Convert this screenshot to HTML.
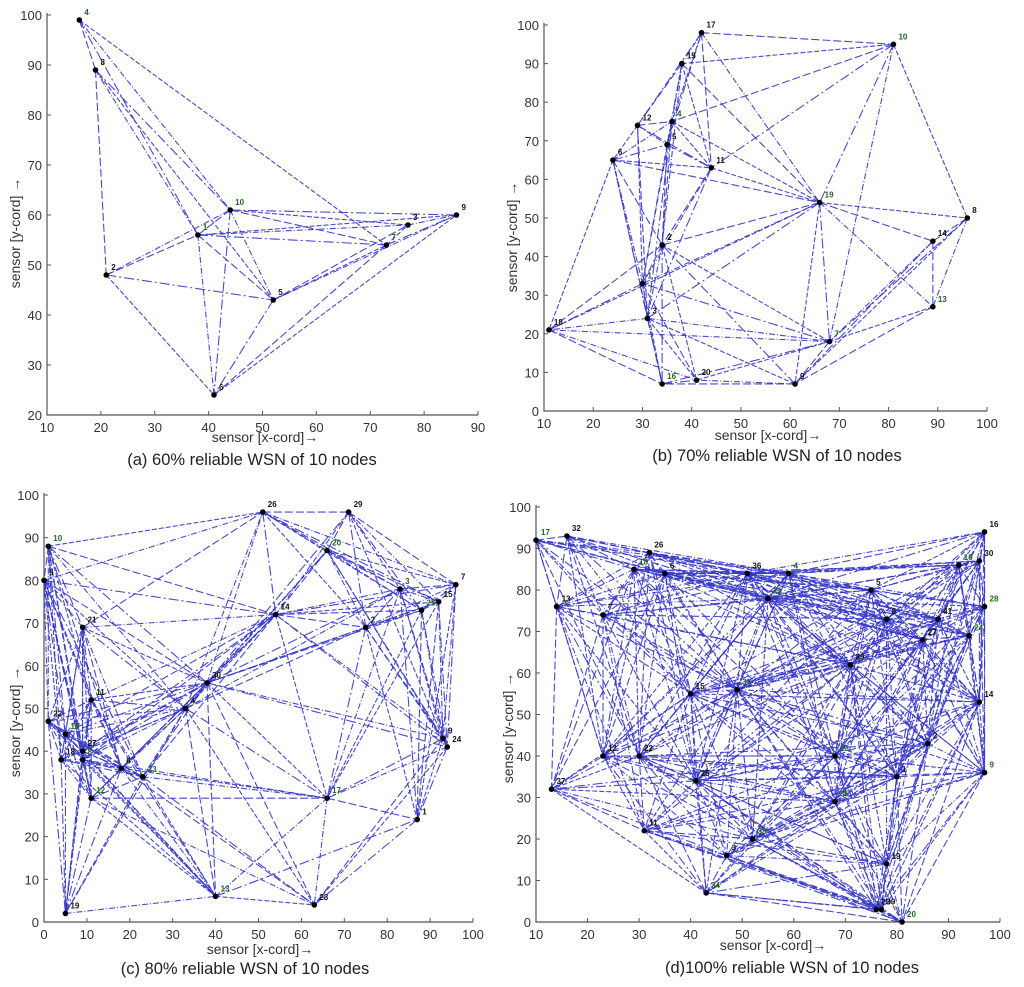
<!DOCTYPE html>
<html><head><meta charset="utf-8"><style>
html,body{margin:0;padding:0;background:#fff;}
svg{display:block;}
text{font-family:"Liberation Sans","DejaVu Sans",sans-serif;}
</style></head><body>
<svg id="fig" width="1024" height="987" viewBox="0 0 1024 987" xmlns="http://www.w3.org/2000/svg"></svg>
<script>
// ---------- Panel (a) data ----------
const aLabels = ["1","2","3","4","5","6","7","8","9","10"];
const aX = [38,21,77,16,52,41,73,19,86,44];
const aY = [56,48,58,99,43,24,54,89,60,61];
const aEdges = [[4,8],[4,10],[4,1],[4,7],[8,2],[8,1],[8,10],[8,5],[2,1],[2,10],[2,5],[2,6],[1,10],[1,3],[1,7],[1,9],[1,5],[1,6],[10,9],[10,3],[10,7],[10,5],[10,6],[5,7],[5,3],[5,9],[5,6],[6,9],[6,7],[3,9],[7,9],[7,3]];
const aXTicks = [10,20,30,40,50,60,70,80,90];
const aYTicks = [20,30,40,50,60,70,80,90,100];

// ---------- Panel (b) data ----------
const bLabels = ["1","2","3","4","5","6","7","8","9","10","11","12","13","14","15","16","17","18","19","20"];
const bX = [30,34,31,36,35,24,68,96,61,81,44,29,89,89,38,34,42,11,66,41];
const bY = [33,43,24,75,69,65,18,50,7,95,63,74,27,44,90,7,98,21,54,8];
const bEdges = [[17,10],[17,15],[17,12],[17,4],[17,11],[17,19],[17,5],[15,10],[15,12],[15,4],[15,5],[15,11],[15,19],[15,2],[10,19],[10,8],[10,4],[10,7],[10,11],[12,6],[12,4],[12,5],[12,11],[12,1],[12,3],[6,4],[6,5],[6,11],[6,19],[6,1],[6,3],[6,18],[6,2],[6,16],[4,5],[4,11],[4,2],[4,1],[4,3],[4,19],[5,2],[5,1],[5,11],[11,19],[11,2],[11,1],[11,3],[19,8],[19,14],[19,13],[19,7],[19,9],[19,2],[19,1],[19,3],[19,18],[8,14],[8,13],[8,7],[8,9],[14,13],[14,7],[14,9],[13,7],[13,9],[7,3],[7,1],[7,2],[7,9],[7,18],[7,16],[7,20],[9,16],[9,20],[9,2],[9,3],[2,1],[2,3],[2,16],[2,20],[2,18],[1,3],[1,18],[1,16],[1,20],[3,18],[3,16],[3,20],[18,16],[18,20],[16,20]];
const bXTicks = [10,20,30,40,50,60,70,80,90,100];
const bYTicks = [0,10,20,30,40,50,60,70,80,90,100];

// ---------- Panel (c) data ----------
const cLabels = ["10","5","22","16","18","27","8","21","11","12","19","6","23","4","30","13","26","29","20","14","2","3","7","15","25","9","24","17","1","28"];
const cX = [1,0,1,5,4,9,9,9,11,11,5,18,23,33,38,40,51,71,66,54,75,83,96,92,88,93,94,66,87,63];
const cY = [88,80,47,44,38,40,38,69,52,29,2,36,34,50,56,6,96,96,87,72,69,78,79,75,73,43,41,29,24,4];
const cXTicks = [0,10,20,30,40,50,60,70,80,90,100];
const cYTicks = [0,10,20,30,40,50,60,70,80,90,100];
const cReach = 58;

// ---------- Panel (d) data ----------
const dLabels = ["17","32","26","18","6","36","4","13","7","21","5","8","16","30","16","28","41","27","24","29","15","31","14","2","9","12","22","23","1","25","35","37","11","38","3","19","34","29","39","20"];
const dX = [10,16,32,29,35,51,59,14,23,55,75,78,92,96,97,97,88,85,94,71,40,49,96,86,97,23,30,68,80,41,68,13,31,52,47,78,43,76,77,81];
const dY = [92,93,89,85,84,84,84,76,74,78,80,73,86,87,94,76,73,68,69,62,55,56,53,43,36,40,40,40,35,34,29,32,22,20,16,14,7,3,3,0];
const dXTicks = [10,20,30,40,50,60,70,80,90,100];
const dYTicks = [0,10,20,30,40,50,60,70,80,90,100];
const dReach = 60;

const NS = "http://www.w3.org/2000/svg";
const fig = document.getElementById("fig");
const dashes = ["8,3","6,2,1,2","10,3,2,3","5,2"];

function mk(tag, attrs, parent){
  const e = document.createElementNS(NS, tag);
  for (const k in attrs) e.setAttribute(k, attrs[k]);
  parent.appendChild(e);
  return e;
}

function panel(id, g, labels, xs, ys, edges, xt, yt, cap){
  const grp = mk("g", {}, fig);
  
  
  const sx = v => g.x0 + (v - g.xmin) / (g.xmax - g.xmin) * (g.x1 - g.x0);
  const sy = v => g.yb - (v - g.ymin) / (g.ymax - g.ymin) * (g.yb - g.yt);
  const ax = mk("path", {d:`M${g.x0},${g.yt-2} L${g.x0},${g.yb} L${g.x1},${g.yb}`, fill:"none", stroke:"#555", "stroke-width":1.2}, grp);
  
  
  xt.forEach(v => {
    const x = sx(v);
    mk("line", {x1:x, y1:g.yb, x2:x, y2:g.yb-4, stroke:"#555"}, grp);
    const t = mk("text", {x:x, y:g.yb+17, "text-anchor":"middle", "font-size":13, fill:"#333"}, grp);
    t.textContent = v;
    
    
  });
  yt.forEach(v => {
    const y = sy(v);
    mk("line", {x1:g.x0, y1:y, x2:g.x0+4, y2:y, stroke:"#555"}, grp);
    const t = mk("text", {x:g.x0-5, y:y+5, "text-anchor":"end", "font-size":13, fill:"#333"}, grp);
    t.textContent = v;
    
    
  });
  const eg = mk("g", {}, grp);
  
  
  edges.forEach((p, i) => {
    const a = p[0], b = p[1];
    const l = mk("line", {x1:sx(xs[a]), y1:sy(ys[a]), x2:sx(xs[b]), y2:sy(ys[b]), stroke:"#3535c8", "stroke-width":1.1, "stroke-opacity":0.9, "stroke-dasharray":dashes[i % 4]}, eg);
    
    
  });
  xs.forEach((v, i) => {
    const c = mk("circle", {cx:sx(v), cy:sy(ys[i]), r:2.8, fill:"#000"}, grp);
    
    
    const t = mk("text", {x:sx(v)+5, y:sy(ys[i])-5, "font-size":8, "font-weight":"bold", fill:(i % 3 === 0 ? "#226622" : "#111")}, grp);
    t.textContent = labels[i];
    
    
  });
  const xtit = mk("text", {x:g.xtx, y:g.xty, "text-anchor":"middle", "font-size":14, fill:"#333"}, grp);
  xtit.textContent = "sensor [x-cord]\u2192";
  
  
  const ytit = mk("text", {x:0, y:0, "text-anchor":"middle", "font-size":14, fill:"#333", transform:`translate(${g.ytx},${g.yty}) rotate(-90)`}, grp);
  ytit.textContent = "sensor [y-cord] \u2192";
  
  
  const ct = mk("text", {x:g.cx, y:g.cy, "text-anchor":"middle", "font-size":16.5, fill:"#222"}, grp);
  ct.textContent = cap;
  
  
}

function idxEdges(labels, list){
  return list.map(p => [labels.indexOf(String(p[0])), labels.indexOf(String(p[1]))]);
}
function reachEdges(xs, ys, reach){
  const out = [];
  for (let i = 0; i < xs.length; i++)
    for (let j = i + 1; j < xs.length; j++)
      if (Math.hypot(xs[i]-xs[j], ys[i]-ys[j]) < reach) out.push([i, j]);
  return out;
}

panel("a", {x0:47,x1:478,xmin:10,xmax:90,yt:15,yb:415,ymin:20,ymax:100,xtx:265,xty:442,ytx:20,yty:233,cx:252,cy:465},
  aLabels, aX, aY, idxEdges(aLabels, aEdges), aXTicks, aYTicks, "(a) 60% reliable WSN of 10 nodes");
panel("b", {x0:544,x1:987,xmin:10,xmax:100,yt:25,yb:411,ymin:0,ymax:100,xtx:768,xty:440,ytx:517,yty:237,cx:777,cy:461},
  bLabels, bX, bY, idxEdges(bLabels, bEdges), bXTicks, bYTicks, "(b) 70% reliable WSN of 10 nodes");
panel("c", {x0:44,x1:473,xmin:0,xmax:100,yt:495,yb:922,ymin:0,ymax:100,xtx:260,xty:954,ytx:20,yty:722,cx:245,cy:974},
  cLabels, cX, cY, reachEdges(cX, cY, cReach), cXTicks, cYTicks, "(c) 80% reliable WSN of 10 nodes");
panel("d", {x0:536,x1:1000,xmin:10,xmax:100,yt:507,yb:922,ymin:0,ymax:100,xtx:773,xty:950,ytx:513,yty:728,cx:792,cy:973},
  dLabels, dX, dY, reachEdges(dX, dY, dReach), dXTicks, dYTicks, "(d)100% reliable WSN of 10 nodes");
</script>
</body></html>
